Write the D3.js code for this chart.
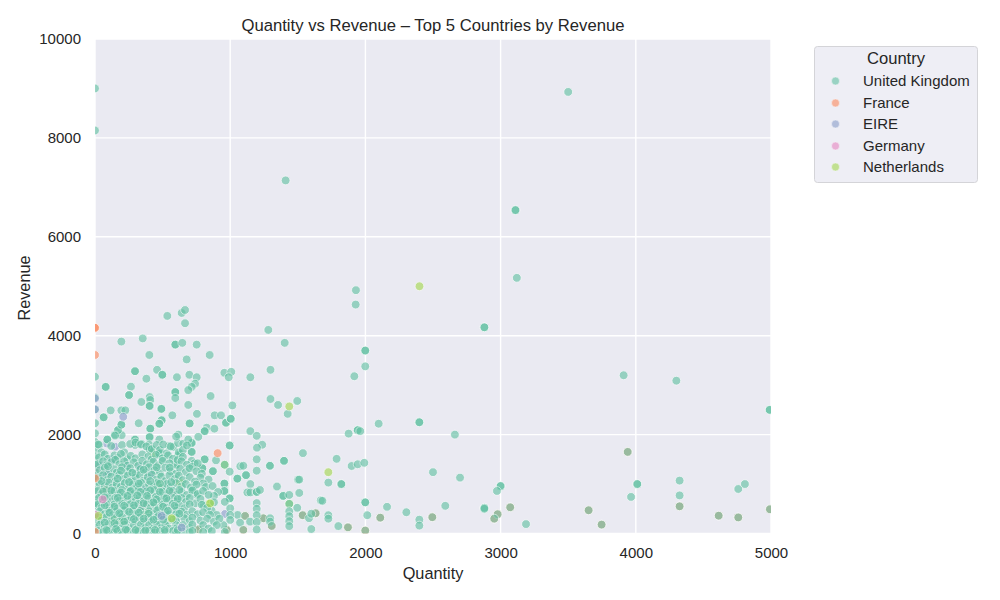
<!DOCTYPE html>
<html>
<head>
<meta charset="utf-8">
<script src="https://cdn.jsdelivr.net/npm/d3@7"></script>
<style>
  html, body { margin: 0; padding: 0; background: #fff; }
  text { font-family: "Liberation Sans", Arial, sans-serif; fill: #262626; }
</style>
</head>
<body>
<svg id="svg" width="1000" height="600"></svg>
<script>
const countries = ['United Kingdom', 'France', 'EIRE', 'Germany', 'Netherlands'];
const countryColors = ['#66c2a5', '#fc8d62', '#8da0cb', '#e78ac3', '#a6d854'];
const xTicks = [0, 1000, 2000, 3000, 4000, 5000];
const yTicks = [0, 2000, 4000, 6000, 8000, 10000];

const ukSparse = [
  [0, 9000], [0, 8150], [3500, 8930], [1410, 7140], [3110, 6540], [3110, 6540], [3120, 5170],
  [1930, 4920], [1928, 4630], [535, 4400], [641, 4460], [666, 4520], [666, 4252], [1282, 4117],
  [2880, 4170], [2880, 4170], [195, 3882], [353, 3945], [594, 3820], [594, 3820], [646, 3855],
  [752, 3820], [1403, 3855], [402, 3610], [848, 3610], [678, 3520], [296, 3282], [296, 3282],
  [459, 3310], [498, 3210], [498, 3210], [380, 3130], [606, 3160], [698, 3210], [752, 3160],
  [740, 3030], [715, 2965], [690, 2900], [957, 3250], [1008, 3270], [989, 3160], [1149, 3160],
  [1298, 3310], [79, 2965], [79, 2965], [266, 2970], [252, 2800], [252, 2800], [594, 2860],
  [594, 2860], [594, 2740], [855, 2780], [1298, 2720], [1354, 2600], [1496, 2680], [1425, 2420],
  [404, 2760], [409, 2700], [404, 2580], [404, 2580], [343, 2660], [690, 2600], [1016, 2590],
  [116, 2490], [195, 2490], [224, 2490], [491, 2520], [491, 2520], [64, 2350], [64, 2350],
  [572, 2390], [754, 2420], [885, 2390], [932, 2390], [969, 2240], [969, 2240], [1004, 2320],
  [1004, 2320], [323, 2230], [493, 2290], [493, 2290], [476, 2220], [476, 2220], [700, 2225],
  [700, 2225], [409, 2120], [409, 2120], [195, 2200], [170, 2090], [148, 2000], [197, 1990],
  [616, 2000], [826, 2140], [811, 2070], [811, 2070], [883, 2120], [1149, 2070], [1196, 1975],
  [1237, 1795], [1198, 1735], [1196, 1500], [1196, 1270], [1538, 1625], [996, 1780], [996, 1780],
  [895, 1480], [959, 1390], [811, 1500], [811, 1500], [794, 1320], [794, 1320], [872, 1260],
  [872, 1260], [996, 1250], [957, 1010], [957, 1010], [957, 860], [957, 860], [1075, 1360],
  [1097, 1370], [1117, 1180], [1117, 1180], [1053, 1110], [1053, 1110], [1294, 1370], [1294, 1370],
  [1398, 1470], [1398, 1470], [1502, 1090], [1511, 1090], [1346, 950], [1149, 1000], [1127, 830],
  [1149, 830], [1196, 840], [1196, 840], [1220, 880], [1392, 760], [1392, 760], [1437, 780],
  [1511, 820], [996, 710], [996, 710], [1437, 600], [1437, 450], [1437, 350], [1437, 250],
  [1437, 150], [1496, 520], [1536, 370], [1583, 310], [1632, 410], [1600, 400], [1670, 670],
  [1600, 90], [1999, 3700], [1999, 3700], [1999, 3380], [1918, 3180], [2098, 2220], [1943, 2090],
  [1943, 2090], [1962, 2070], [1876, 2020], [2399, 2250], [2399, 2250], [2662, 2000], [1787, 1510],
  [1898, 1365], [1943, 1400], [1992, 1430], [1726, 1030], [1822, 1000], [1822, 1000], [2500, 1240],
  [2700, 1130], [3000, 960], [3000, 960], [2973, 860], [1682, 660], [1999, 630], [1999, 630],
  [2160, 540], [2014, 370], [1726, 370], [1726, 300], [1800, 150], [1871, 125], [1999, 60],
  [2110, 320], [2303, 430], [2399, 280], [2399, 160], [2495, 330], [2591, 560], [2880, 520],
  [2880, 520], [2880, 500], [2978, 390], [2953, 300], [3071, 530], [3188, 190], [3940, 1650],
  [4011, 1000], [4011, 1000], [3965, 740], [3651, 470], [3747, 180], [4324, 1070], [4324, 770],
  [4324, 550], [4613, 360], [4758, 325], [4758, 900], [4807, 1000], [4992, 490], [4990, 2500],
  [4990, 2500], [3910, 3200], [4300, 3090],
  [1055, 375], [1110, 355], [1073, 220], [1147, 240], [1245, 308], [1295, 308], [1295, 240],
  [1307, 153], [1097, 72], [974, 72], [765, 85], [950, 170], [728, 880], [752, 778], [802, 577],
  [740, 610], [863, 462], [900, 375]
];

const ukEdge = [
  [0, 3170], [0, 2750], [0, 2510], [0, 2230], [0, 2025], [0, 1850], [0, 1700], [0, 1560], [0, 1400],
  [0, 1250], [0, 1040], [0, 880], [0, 700], [0, 540], [0, 390], [0, 240], [0, 110], [6, 1160], [6, 620]
];

const ukDense = [
  [170, 2090], [148, 1980], [195, 2200], [91, 1900], [91, 1900], [32, 1790], [296, 1900], [296, 1900],
  [296, 1790], [345, 1810], [404, 1950], [404, 1950], [400, 1800], [404, 1700], [404, 1700], [476, 1900],
  [548, 1770], [580, 1750], [614, 1830], [600, 1960], [653, 1815], [715, 1830], [715, 1830], [764, 1955],
  [690, 1900], [715, 1650], [715, 1650], [476, 1620], [476, 1620], [476, 1620], [617, 1585], [617, 1585],
  [632, 1610], [715, 1470], [736, 1420], [600, 1390], [600, 1390],
  [24, 1800], [48, 1640], [120, 1770], [200, 1790], [216, 1640], [260, 1810], [300, 1840], [340, 1800],
  [380, 1760], [420, 1710], [456, 1790], [480, 1690], [505, 1800], [530, 1620], [560, 1760], [620, 1640],
  [650, 1690], [680, 1780],
  [30, 1540], [72, 1600], [96, 1510], [144, 1580], [168, 1530], [192, 1610], [240, 1500], [264, 1570],
  [300, 1520], [350, 1600], [396, 1560], [420, 1500], [450, 1590], [500, 1520], [540, 1580], [576, 1510],
  [612, 1490], [650, 1550],
  [20, 1400], [60, 1460], [84, 1380], [120, 1440], [150, 1490], [180, 1400], [216, 1460], [240, 1370],
  [288, 1440], [320, 1370], [350, 1470], [384, 1400], [432, 1450], [470, 1380], [500, 1470], [550, 1420],
  [640, 1460], [680, 1390], [720, 1350], [760, 1420],
  [36, 1280], [72, 1330], [100, 1220], [140, 1300], [160, 1230], [200, 1340], [240, 1250], [260, 1320],
  [300, 1210], [336, 1300], [372, 1240], [400, 1340], [440, 1280], [480, 1220], [520, 1330], [560, 1260],
  [600, 1210], [630, 1310], [672, 1240], [700, 1320], [750, 1260], [790, 1210], [780, 1130], [840, 1090],
  [24, 1120], [60, 1180], [90, 1080], [120, 1150], [150, 1060], [180, 1190], [210, 1100], [240, 1170],
  [270, 1060], [300, 1130], [330, 1180], [360, 1070], [390, 1140], [420, 1190], [456, 1090], [490, 1150],
  [520, 1060], [550, 1180], [590, 1100], [620, 1170], [650, 1080], [700, 1140], [740, 1050], [800, 1010],
  [36, 1000], [72, 960], [100, 1030], [130, 930], [160, 1000], [192, 950], [220, 1020], [250, 920],
  [280, 990], [312, 950], [340, 1030], [372, 920], [400, 990], [430, 950], [460, 1020], [496, 930],
  [530, 1000], [560, 940], [600, 1020], [640, 950], [672, 1000], [710, 930], [750, 990], [820, 940],
  [870, 960], [910, 840], [880, 760],
  [20, 860], [48, 800], [84, 880], [110, 790], [144, 860], [170, 800], [200, 880], [230, 790], [260, 850],
  [288, 800], [320, 880], [350, 780], [380, 850], [410, 800], [440, 880], [470, 780], [500, 850], [530, 800],
  [576, 860], [600, 780], [640, 840], [680, 780], [720, 870], [760, 800], [800, 860], [840, 780],
  [30, 720], [60, 660], [96, 740], [120, 650], [150, 720], [180, 660], [210, 740], [240, 650], [270, 720],
  [300, 660], [330, 740], [360, 650], [396, 720], [420, 660], [450, 740], [480, 650], [510, 720], [540, 660],
  [576, 720], [600, 650], [640, 720], [672, 640], [700, 720], [780, 700], [880, 630], [960, 640],
  [24, 590], [48, 520], [84, 600], [108, 530], [144, 590], [168, 510], [200, 600], [228, 530], [260, 590],
  [288, 520], [320, 600], [348, 510], [384, 590], [410, 530], [440, 600], [470, 510], [500, 590], [530, 520],
  [576, 600], [600, 530], [620, 580], [660, 510], [700, 590], [790, 580], [830, 520], [1000, 510],
  [1000, 375], [1000, 274], [1196, 615], [1196, 500], [1196, 370], [1196, 230], [1196, 80],
  [36, 450], [72, 390], [100, 460], [132, 380], [160, 450], [192, 390], [216, 470], [250, 380], [280, 450],
  [300, 390], [336, 460], [360, 380], [400, 450], [432, 390], [460, 470], [490, 380], [520, 450], [550, 390],
  [600, 460], [600, 390], [640, 440], [680, 380], [720, 450], [760, 390], [800, 430], [850, 380],
  [24, 320], [48, 260], [84, 330], [120, 250], [144, 310], [180, 240], [200, 330], [240, 260], [270, 320],
  [300, 250], [330, 320], [360, 240], [396, 320], [420, 250], [456, 320], [480, 240], [510, 320], [540, 250],
  [600, 320], [600, 250], [660, 310], [700, 250], [720, 320], [780, 260], [830, 300], [880, 240], [920, 300],
  [36, 180], [72, 120], [100, 190], [130, 110], [160, 170], [192, 100], [216, 180], [250, 110], [288, 170],
  [312, 100], [340, 180], [372, 110], [400, 170], [432, 100], [460, 180], [490, 110], [520, 170], [550, 100],
  [600, 170], [600, 100], [650, 170], [700, 110], [720, 180], [800, 170], [840, 100], [900, 170],
  [24, 50], [60, 30], [96, 60], [132, 20], [168, 50], [200, 30], [240, 60], [288, 20], [320, 50], [360, 30],
  [400, 60], [440, 20], [480, 50], [520, 30], [576, 50], [600, 20], [648, 40], [700, 30], [720, 50], [800, 30],
  [864, 50], [960, 30]
];

// second pass over the thickest part of the cloud
const ukCore = [
  [96, 1360], [192, 1270], [276, 1230], [360, 1290], [456, 1340], [552, 1330], [48, 1060], [168, 1110],
  [252, 1040], [324, 1010], [408, 1060], [480, 1010], [564, 1040], [60, 850], [120, 870], [192, 830],
  [264, 860], [336, 840], [408, 870], [480, 840], [552, 860], [624, 880], [72, 730], [168, 720], [240, 760],
  [312, 770], [384, 760], [456, 690], [528, 710], [612, 700], [72, 570], [144, 540], [216, 560], [288, 570],
  [360, 610], [432, 630], [504, 540], [588, 560], [108, 420], [180, 410], [252, 440], [324, 420], [396, 400],
  [468, 350], [540, 460], [624, 400], [72, 220], [144, 210], [216, 240], [288, 290], [360, 300], [432, 280],
  [504, 280], [576, 280], [84, 70], [156, 90], [228, 80], [300, 70], [372, 60], [444, 70], [516, 70], [612, 70]
];

const franceUnder = [
  [74, 880], [1871, 125], [1999, 60], [2110, 320], [2495, 330], [2978, 390], [2953, 300], [3071, 530],
  [3940, 1650], [3651, 470], [3747, 180], [4324, 550], [4613, 360], [4758, 325], [4992, 490],
  [1536, 370], [1632, 410], [1110, 355], [1245, 308], [1307, 153], [1097, 72], [974, 72], [765, 85]
];
const eireUnder = [
  [86, 1822], [148, 1754], [37, 1384], [234, 1384], [86, 1216], [407, 1180], [333, 1350], [360, 880], [130, 1500],
  [962, 395]
];
const germanyUnder = [[567, 830], [350, 560], [0, 1300]];
const netherlandsUnder = [
  [959, 1390], [1437, 600], [431, 1620], [628, 1030], [480, 1010], [851, 610], [135, 273], [382, 420], [200, 260]
];

const franceOver = [[907, 1625], [0, 4160], [0, 4160], [0, 3610], [0, 1115], [0, 30]];
const eireOver = [[209, 2360], [0, 2730], [0, 2510], [493, 355], [641, 120]];
const germanyOver = [[57, 691], [0, 380]];
const netherlandsOver = [[2400, 5000], [1437, 2570], [1726, 1240], [851, 610], [25, 355], [567, 307]];

// draw order, bottom to top: [points, index into countries]
const layers = [
  [franceUnder, 1], [eireUnder, 2], [germanyUnder, 3], [netherlandsUnder, 4],
  [ukSparse, 0], [ukEdge, 0], [ukDense, 0], [ukCore, 0],
  [franceOver, 1], [eireOver, 2], [germanyOver, 3], [netherlandsOver, 4]
];

const svg = d3.select('#svg');
const x = d3.scaleLinear().domain([0, 5000]).range([95, 771]);
const y = d3.scaleLinear().domain([0, 10000]).range([533.5, 39]);
const color = d3.scaleOrdinal().domain(countries).range(countryColors);

svg.append('rect')
  .attr('x', 95).attr('y', 39)
  .attr('width', 676).attr('height', 494.5)
  .attr('fill', '#eaeaf2');

svg.append('clipPath').attr('id', 'plot-clip')
  .append('rect')
  .attr('x', 95).attr('y', 39)
  .attr('width', 676).attr('height', 494.5);

svg.append('g').selectAll('line')
  .data(xTicks)
  .enter().append('line')
  .attr('x1', d => x(d)).attr('x2', d => x(d))
  .attr('y1', 39).attr('y2', 533.5)
  .attr('stroke', '#fff').attr('stroke-width', 1.4);
svg.append('g').selectAll('line')
  .data(yTicks)
  .enter().append('line')
  .attr('x1', 95).attr('x2', 771)
  .attr('y1', d => y(d)).attr('y2', d => y(d))
  .attr('stroke', '#fff').attr('stroke-width', 1.4);

const dots = svg.append('g').attr('clip-path', 'url(#plot-clip)');
layers.forEach(([points, c]) => {
  dots.append('g').selectAll('circle')
    .data(points)
    .enter().append('circle')
    .attr('cx', d => x(d[0]))
    .attr('cy', d => y(d[1]))
    .attr('r', 4.4)
    .attr('fill', color(countries[c]))
    .attr('stroke', '#fff')
    .attr('stroke-width', 0.8)
    .attr('opacity', 0.64);
});

const xAxis = svg.append('g')
  .attr('transform', 'translate(0,533.5)')
  .call(d3.axisBottom(x).tickValues(xTicks).tickSize(0).tickPadding(13.5).tickFormat(d3.format('d')));
const yAxis = svg.append('g')
  .attr('transform', 'translate(95,0)')
  .call(d3.axisLeft(y).tickValues(yTicks).tickSize(0).tickPadding(14).tickFormat(d3.format('d')));
[xAxis, yAxis].forEach(a => {
  a.select('.domain').remove();
  a.selectAll('text').style('font-size', '15px').style('font-family', '"Liberation Sans", Arial, sans-serif').attr('fill', '#262626');
});
yAxis.selectAll('text').attr('dy', '0.33em');

svg.append('text')
  .attr('x', 433).attr('y', 31)
  .attr('text-anchor', 'middle')
  .style('font-size', '16.67px')
  .text('Quantity vs Revenue – Top 5 Countries by Revenue');
svg.append('text')
  .attr('x', 433).attr('y', 579)
  .attr('text-anchor', 'middle')
  .style('font-size', '16.3px')
  .text('Quantity');
svg.append('text')
  .attr('transform', 'translate(30,288) rotate(-90)')
  .attr('text-anchor', 'middle')
  .style('font-size', '16.3px')
  .text('Revenue');

// legend
const legendRows = [81, 103, 124, 146, 167];
const legend = svg.append('g');
legend.append('rect')
  .attr('x', 814.5).attr('y', 46.5)
  .attr('width', 163).attr('height', 136)
  .attr('rx', 3)
  .attr('fill', '#eeeef5')
  .attr('stroke', '#d4d4d8')
  .attr('stroke-width', 1);
legend.append('text')
  .attr('x', 896).attr('y', 64)
  .attr('text-anchor', 'middle')
  .style('font-size', '16.6px')
  .text('Country');
countries.forEach((name, i) => {
  legend.append('circle')
    .attr('cx', 835.5).attr('cy', legendRows[i])
    .attr('r', 4)
    .attr('fill', countryColors[i])
    .attr('stroke', '#fff').attr('stroke-width', 0.5)
    .attr('opacity', 0.62);
  legend.append('text')
    .attr('x', 863).attr('y', legendRows[i] + 5)
    .style('font-size', '15px')
    .text(name);
});
</script>
</body>
</html>
